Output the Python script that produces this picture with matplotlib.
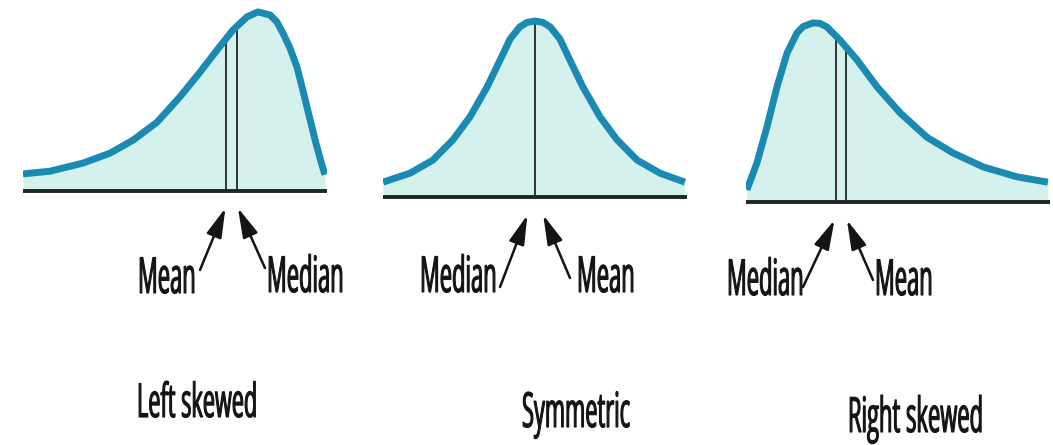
import numpy as np
import matplotlib
matplotlib.use("Agg")
import matplotlib.pyplot as plt
from matplotlib.patheffects import AbstractPathEffect
from matplotlib.transforms import Affine2D

plt.rcParams['font.family'] = ['Open Sans', 'DejaVu Sans']

curve_col = "#1a8ab2"
fill_col = "#d5f1ee"
ink = "#141414"

# density curves (x in 0..10, height of the density)
x_left = [0, 0.89, 1.97, 2.86, 3.62, 4.41, 5.16, 5.82, 6.38, 6.91, 7.37, 7.73,
          8.13, 8.35, 8.55, 8.78, 9.01, 9.18, 9.34, 9.61, 9.77, 9.93]
d_left = [0.038, 0.044, 0.062, 0.084, 0.113, 0.153, 0.209, 0.264, 0.313, 0.358,
          0.387, 0.398, 0.391, 0.376, 0.351, 0.318, 0.276, 0.231, 0.187, 0.113,
          0.073, 0.036]

x_sym = [0, 0.89, 1.64, 2.30, 2.86, 3.42, 3.85, 4.18, 4.50, 4.74, 5.0, 5.26,
         5.50, 5.82, 6.15, 6.58, 7.14, 7.70, 8.36, 9.11, 9.93]
d_sym = [0.033, 0.053, 0.082, 0.127, 0.178, 0.244, 0.304, 0.351, 0.378, 0.388,
         0.391, 0.388, 0.378, 0.351, 0.304, 0.244, 0.178, 0.127, 0.082, 0.053,
         0.033]

x_right = [0.03, 0.36, 0.69, 1.02, 1.35, 1.68, 1.88, 2.20, 2.43, 2.66, 3.09,
           3.65, 4.31, 5.07, 5.95, 6.81, 7.80, 8.91, 9.93]
d_right = [0.027, 0.087, 0.167, 0.256, 0.331, 0.376, 0.390, 0.398, 0.397,
           0.389, 0.360, 0.316, 0.256, 0.198, 0.144, 0.109, 0.078, 0.056, 0.044]

# where the mean and median lines sit
mean_left, median_left = 6.68, 7.04
mean_sym, median_sym = 5.0, 5.0
median_right, mean_right = 2.96, 3.29

titles = ["Left skewed", "Symmetric", "Right skewed"]


class Tall(AbstractPathEffect):
    # lettering in the original is very tall and narrow: stretch glyphs upward
    # from the baseline and thicken the strokes a little
    def __init__(self, sy, lw=0.8):
        super().__init__()
        self.sy = sy
        self.lw = lw

    def draw_path(self, renderer, gc, tpath, affine, rgbFace=None):
        gc0 = renderer.new_gc()
        gc0.copy_properties(gc)
        gc0.set_linewidth(self.lw)
        gc0.set_joinstyle('round')
        renderer.draw_path(gc0, tpath, Affine2D().scale(1.0, self.sy) + affine, rgbFace)
        gc0.restore()


W, H = 1053, 445
fig = plt.figure(figsize=(W / 100, H / 100), dpi=100)
fig.patch.set_facecolor("white")

# panel: left pixel of baseline, baseline pixel row (from top)
panels = [
    (23, 191, x_left, d_left, [mean_left, median_left]),
    (383, 197, x_sym, d_sym, [mean_sym]),
    (746, 202, x_right, d_right, [median_right, mean_right]),
]
axes = []
for x0, base, xs, ds, marks in panels:
    ax = fig.add_axes([x0 / W, 0, 304 / W, 1])
    ax.set_xlim(0, 10)
    ax.set_ylim((base - H) / 450, base / 450)
    ax.axis('off')
    ax.fill_between(xs, ds, 0, color=fill_col, lw=0, zorder=1)
    ax.plot(xs, ds, color=curve_col, lw=5, solid_joinstyle='round',
            solid_capstyle='butt', zorder=3)
    for m in marks:
        ax.plot([m, m], [0, np.interp(m, xs, ds)], color=ink, lw=1.2, zorder=2)
    ax.plot([0, 10], [0, 0], color="#1e2626", lw=2.8, zorder=4)
    axes.append(ax)


def label(txt, px, py, size=15.8, sy=2.27):
    fig.text(px / W, 1 - py / H, txt, ha='left', va='baseline', fontsize=size,
             color=ink, path_effects=[Tall(sy)])


def arrow(ax, xm, base, tip_py, tail):
    ax.annotate('', xy=(xm, (base - tip_py) / 450), xycoords='data',
                xytext=(tail[0], H - tail[1]), textcoords='figure pixels',
                arrowprops=dict(arrowstyle='-|>,head_length=0.9,head_width=0.24',
                                color=ink, lw=1.8, shrinkA=0, shrinkB=0,
                                mutation_scale=20),
                annotation_clip=False)


# left skewed
arrow(axes[0], mean_left - 0.02, 191, 208, (200, 270))
arrow(axes[0], median_left + 0.03, 191, 208, (265, 268))
label("Mean", 138, 293)
label("Median", 267, 292)

# symmetric
arrow(axes[1], mean_sym - 0.25, 197, 215, (500, 287))
arrow(axes[1], mean_sym + 0.27, 197, 215, (570, 278))
label("Median", 420, 292)
label("Mean", 577, 292)

# right skewed
arrow(axes[2], median_right - 0.05, 202, 220, (803, 287))
arrow(axes[2], mean_right + 0.03, 202, 220, (873, 280))
label("Median", 727, 295)
label("Mean", 875, 295)

label(titles[0], 137, 417, size=15.6, sy=2.17)
label(titles[1], 522, 427, size=15.7, sy=2.22)
label(titles[2], 848, 432, size=15.8, sy=2.22)

fig.savefig("out.png", dpi=100, facecolor="white")
